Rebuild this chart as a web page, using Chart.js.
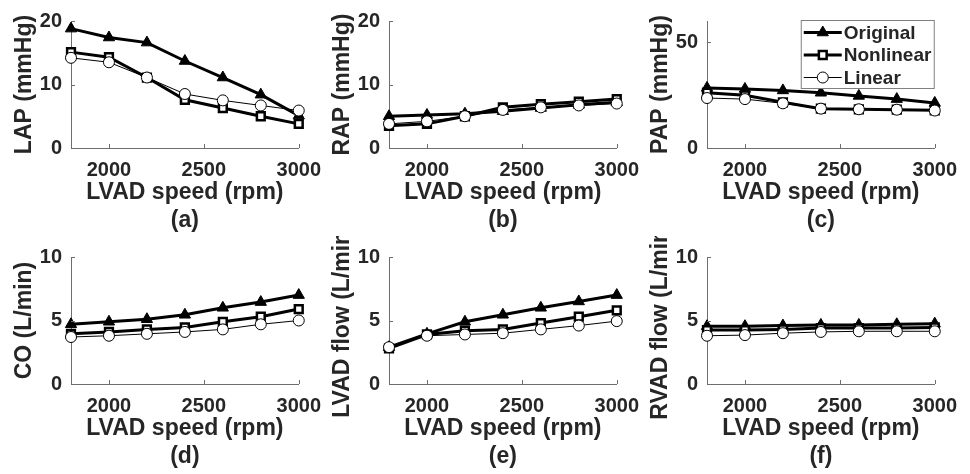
<!DOCTYPE html>
<html>
<head>
<meta charset="utf-8">
<script src="https://cdn.jsdelivr.net/npm/chart.js@4.4.0/dist/chart.umd.min.js"></script>
<style>
body { margin: 0; background: #fff; width: 970px; height: 474px; position: relative; overflow: hidden; }
canvas { position: absolute; }
</style>
</head>
<body>
<canvas id="chartA" width="323" height="235" style="left:8px;top:0px"></canvas>
<canvas id="chartB" width="323" height="235" style="left:326px;top:0px"></canvas>
<canvas id="chartC" width="323" height="235" style="left:644px;top:0px"></canvas>
<canvas id="chartD" width="323" height="235" style="left:8px;top:236px"></canvas>
<canvas id="chartE" width="323" height="235" style="left:326px;top:236px"></canvas>
<canvas id="chartF" width="323" height="235" style="left:644px;top:236px"></canvas>
<script>
// LVAD speeds (rpm)
var speeds = [1800, 2000, 2200, 2400, 2600, 2800, 3000];
var xTicks = [2000, 2500, 3000];
var seriesNames = ['Original', 'Nonlinear', 'Linear'];

// (a) LAP
var lapOriginal = [18.8, 17.4, 16.6, 13.7, 11.1, 8.4, 5.1];
var lapNonlinear = [15.1, 14.3, 11.1, 7.6, 6.3, 5.0, 3.8];
var lapLinear = [14.2, 13.5, 11.1, 8.5, 7.5, 6.7, 5.9];
// (b) RAP
var rapOriginal = [5.0, 5.2, 5.4, 5.8, 6.3, 6.8, 7.2];
var rapNonlinear = [3.5, 3.8, 5.0, 6.4, 6.9, 7.3, 7.7];
var rapLinear = [3.8, 4.2, 5.0, 6.0, 6.4, 6.7, 7.0];
// (c) PAP
var papOriginal = [28.4, 27.9, 27.2, 26.1, 24.6, 23.1, 21.3];
var papNonlinear = [26.1, 24.9, 21.6, 18.6, 18.3, 18.1, 17.8];
var papLinear = [23.6, 23.1, 21.1, 18.6, 18.3, 18.1, 17.7];
// (d) CO
var coOriginal = [4.7, 4.9, 5.1, 5.45, 6.0, 6.45, 7.0];
var coNonlinear = [3.95, 4.1, 4.3, 4.45, 4.9, 5.3, 5.9];
var coLinear = [3.7, 3.8, 3.95, 4.1, 4.3, 4.7, 5.0];
// (e) LVAD flow
var lvadOriginal = [2.9, 3.95, 4.9, 5.45, 6.0, 6.5, 7.0];
var lvadNonlinear = [2.8, 3.9, 4.2, 4.3, 4.8, 5.3, 5.8];
var lvadLinear = [2.9, 3.8, 3.9, 4.0, 4.3, 4.6, 4.95];
// (f) RVAD flow
var rvadOriginal = [4.55, 4.55, 4.6, 4.65, 4.65, 4.7, 4.75];
var rvadNonlinear = [4.25, 4.25, 4.3, 4.4, 4.4, 4.4, 4.45];
var rvadLinear = [3.8, 3.85, 4.0, 4.1, 4.15, 4.15, 4.15];

var textColor = '#262626';
var axisColor = '#6e6e6e';
var fontFamily = '"Liberation Sans", Arial, sans-serif';

// MATLAB style ticks pointing into the plot
var inwardTicks = {
    id: 'inwardTicks',
    afterDatasetsDraw: function(chart) {
        var ctx = chart.ctx, xs = chart.scales.x, ys = chart.scales.y;
        ctx.save();
        ctx.strokeStyle = axisColor;
        ctx.lineWidth = 1;
        ctx.beginPath();
        xs.ticks.forEach(function(t) {
            var px = Math.round(xs.getPixelForValue(t.value)) + 0.5;
            ctx.moveTo(px, ys.bottom);
            ctx.lineTo(px, ys.bottom - 4);
        });
        ys.ticks.forEach(function(t) {
            var py = Math.round(ys.getPixelForValue(t.value)) + 0.5;
            ctx.moveTo(xs.left, py);
            ctx.lineTo(xs.left + 4, py);
        });
        ctx.stroke();
        ctx.restore();
    }
};

// legend box in the top right corner of (c)
var legendBox = {
    id: 'legendBox',
    afterDraw: function(chart) {
        var ctx = chart.ctx, area = chart.chartArea;
        var w = 134, h = 69;
        var left = area.right - w, top = area.top - 1;
        ctx.save();
        ctx.fillStyle = '#fff';
        ctx.fillRect(left, top, w, h);
        ctx.strokeStyle = '#808080';
        ctx.lineWidth = 1;
        ctx.strokeRect(left + 0.5, top + 0.5, w - 1, h - 1);
        chart.data.datasets.forEach(function(ds, i) {
            var cy = top + 12.5 + i * 22.5;
            ctx.strokeStyle = '#000';
            ctx.lineWidth = ds.borderWidth;
            ctx.beginPath();
            ctx.moveTo(left + 3, cy);
            ctx.lineTo(left + 41, cy);
            ctx.stroke();
            ctx.fillStyle = ds.pointBackgroundColor;
            ctx.lineWidth = ds.pointBorderWidth;
            Chart.helpers.drawPoint(ctx, {pointStyle: ds.pointStyle, rotation: 0, radius: ds.pointRadius, borderWidth: ds.pointBorderWidth}, left + 22, cy);
            ctx.fillStyle = textColor;
            ctx.font = 'bold 19px ' + fontFamily;
            ctx.textBaseline = 'middle';
            ctx.textAlign = 'left';
            ctx.fillText(ds.label, left + 43, cy + 1);
        });
        ctx.restore();
    }
};

function makePanel(id, yTitle, letter, yMax, yTicks, original, nonlinear, linear, extraPlugins) {
    var ctx = document.getElementById(id).getContext('2d');
    return new Chart(ctx, {
        type: 'line',
        data: {
            datasets: [
                {
                    label: seriesNames[0],
                    data: speeds.map(function(s, i) { return {x: s, y: original[i]}; }),
                    borderColor: '#000', borderWidth: 3,
                    pointStyle: 'triangle', pointRadius: 6.5,
                    pointBackgroundColor: '#000', pointBorderColor: '#000', pointBorderWidth: 1,
                    tension: 0, clip: false, order: 2
                },
                {
                    label: seriesNames[1],
                    data: speeds.map(function(s, i) { return {x: s, y: nonlinear[i]}; }),
                    borderColor: '#000', borderWidth: 3,
                    pointStyle: 'rect', pointRadius: 5.5,
                    pointBackgroundColor: '#fff', pointBorderColor: '#000', pointBorderWidth: 2.5,
                    tension: 0, clip: false, order: 1
                },
                {
                    label: seriesNames[2],
                    data: speeds.map(function(s, i) { return {x: s, y: linear[i]}; }),
                    borderColor: '#000', borderWidth: 1,
                    pointStyle: 'circle', pointRadius: 5.5,
                    pointBackgroundColor: '#fff', pointBorderColor: '#000', pointBorderWidth: 1,
                    tension: 0, clip: false, order: 0
                }
            ]
        },
        options: {
            responsive: false,
            animation: false,
            events: [],
            layout: { padding: { left: 0, top: 15, right: 30, bottom: 0 } },
            plugins: { legend: { display: false }, tooltip: { enabled: false } },
            scales: {
                x: {
                    type: 'linear', min: 1800, max: 3000,
                    afterBuildTicks: function(scale) { scale.ticks = xTicks.map(function(v) { return {value: v}; }); },
                    afterFit: function(scale) { scale.height = 87; },
                    grid: { display: false, drawTicks: false },
                    border: { display: true, color: axisColor, width: 1 },
                    ticks: {
                        color: textColor, padding: 10, maxRotation: 0,
                        callback: function(v) { return String(v); },
                        font: { family: fontFamily, size: 20, weight: 'bold' }
                    },
                    title: {
                        display: true, text: ['LVAD speed (rpm)', '(' + letter + ')'],
                        color: textColor, padding: { top: 0, bottom: 0 },
                        font: { family: fontFamily, size: 23, weight: 'bold', lineHeight: 1.217 }
                    }
                },
                y: {
                    type: 'linear', min: 0, max: yMax,
                    afterBuildTicks: function(scale) { scale.ticks = yTicks.map(function(v) { return {value: v}; }); },
                    afterFit: function(scale) { scale.width = 63; },
                    grid: { display: false, drawTicks: false },
                    border: { display: true, color: axisColor, width: 1 },
                    ticks: { color: textColor, padding: 9, font: { family: fontFamily, size: 20, weight: 'bold' } },
                    title: {
                        display: true, text: yTitle, color: textColor,
                        padding: { top: 3, bottom: 4 },
                        font: { family: fontFamily, size: 23, weight: 'bold', lineHeight: 1.2 }
                    }
                }
            }
        },
        plugins: [inwardTicks].concat(extraPlugins || [])
    });
}

function initialize() {
    makePanel('chartA', 'LAP (mmHg)', 'a', 20, [0, 10, 20], lapOriginal, lapNonlinear, lapLinear);
    makePanel('chartB', 'RAP (mmHg)', 'b', 20, [0, 10, 20], rapOriginal, rapNonlinear, rapLinear);
    makePanel('chartC', 'PAP (mmHg)', 'c', 60, [0, 50], papOriginal, papNonlinear, papLinear, [legendBox]);
    makePanel('chartD', 'CO (L/min)', 'd', 10, [0, 5, 10], coOriginal, coNonlinear, coLinear);
    makePanel('chartE', 'LVAD flow (L/min)', 'e', 10, [0, 5, 10], lvadOriginal, lvadNonlinear, lvadLinear);
    makePanel('chartF', 'RVAD flow (L/min)', 'f', 10, [0, 5, 10], rvadOriginal, rvadNonlinear, rvadLinear);
}
document.addEventListener('DOMContentLoaded', initialize);
</script>
</body>
</html>
